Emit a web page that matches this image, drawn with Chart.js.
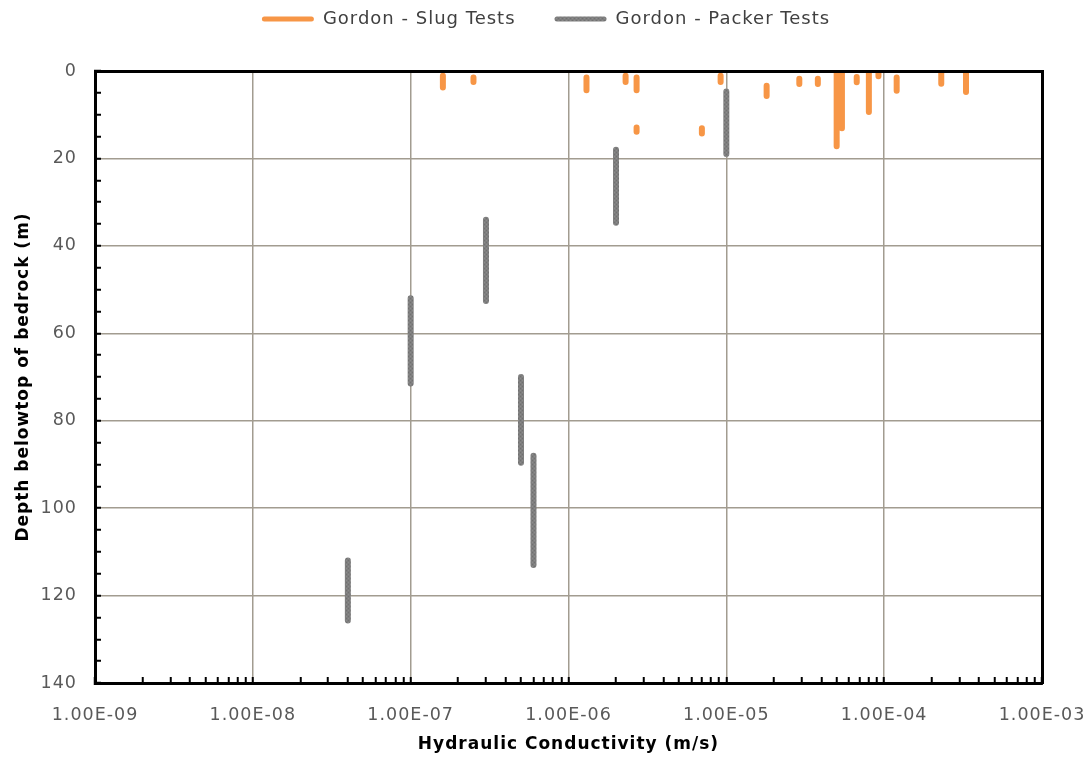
<!DOCTYPE html>
<html>
<head>
<meta charset="utf-8">
<script src="https://cdn.jsdelivr.net/npm/chart.js@4/dist/chart.umd.min.js"></script>
<style>
  html, body { margin: 0; padding: 0; background: #ffffff; }
  #wrap { width: 1092px; height: 760px; }
</style>
</head>
<body>
<div id="wrap"><canvas id="chart" width="1092" height="760"></canvas></div>
<script>
// Slug tests: hydraulic conductivity (m/s) and tested interval (m below top of bedrock)
const slugK      = [1.6e-7, 2.5e-7, 1.3e-6, 2.3e-6, 2.7e-6, 2.7e-6, 7.0e-6, 9.2e-6, 1.8e-5, 2.9e-5,
                    3.8e-5, 5.0e-5, 5.4e-5, 6.7e-5, 8.0e-5, 9.2e-5, 1.2e-4, 2.3e-4, 3.3e-4];
const slugTop    = [1.1, 1.5, 1.5, 1.1, 1.5, 12.9, 13.1, 1.1, 3.4, 1.8,
                    1.8, 0, 0, 1.4, 0, 0, 1.5, 0, 0];
const slugBottom = [3.8, 2.5, 4.4, 2.5, 4.4, 13.9, 14.3, 2.5, 5.7, 3.0,
                    3.0, 17.2, 13.1, 2.6, 9.4, 1.2, 4.5, 2.9, 4.8];

// Packer tests
const packerK      = [4e-8, 1e-7, 3e-7, 5e-7, 6e-7, 2e-6, 1e-5];
const packerTop    = [112, 52, 34, 70, 88, 18, 4.7];
const packerBottom = [125.7, 71.5, 52.6, 89.6, 113, 34.7, 19];

// Axis ticks
const xTickValues = [1e-9, 1e-8, 1e-7, 1e-6, 1e-5, 1e-4, 1e-3];
const xTickLabels = ['1.00E-09', '1.00E-08', '1.00E-07', '1.00E-06', '1.00E-05', '1.00E-04', '1.00E-03'];
const yTickLabels = [0, 20, 40, 60, 80, 100, 120, 140];

const ORANGE = '#F79646';
const GRID = '#a29c90';
const FONT = "'DejaVu Sans', sans-serif";

// each test interval becomes a vertical stroke; a null point breaks the line between tests
function intervals(k, top, bottom) {
  const pts = [];
  k.forEach((v, i) => {
    pts.push({ x: v, y: top[i] }, { x: v, y: bottom[i] }, { x: v, y: null });
  });
  return pts;
}

// finely speckled grey used for the packer strokes
function speckle() {
  const c = document.createElement('canvas');
  c.width = 4; c.height = 4;
  const g = c.getContext('2d');
  g.fillStyle = '#7e7e7e'; g.fillRect(0, 0, 4, 4);
  g.fillStyle = '#707070'; g.fillRect(0, 0, 1, 1); g.fillRect(2, 2, 1, 1);
  g.fillStyle = '#8b8b8b'; g.fillRect(2, 0, 1, 1); g.fillRect(0, 2, 1, 1);
  return g.createPattern(c, 'repeat');
}
const GREY = speckle();

// decades plus the 2..9 minor positions of the log axis
function logTicks() {
  const out = [];
  xTickValues.forEach((d, i) => {
    out.push({ value: d, major: true });
    if (i < xTickValues.length - 1) {
      for (let m = 2; m <= 9; m++) out.push({ value: m * d, major: false });
    }
  });
  return out;
}

const textSpacing = {
  id: 'textSpacing',
  beforeLayout(c) { c.ctx.letterSpacing = '1px'; },
  beforeDraw(c) { c.ctx.letterSpacing = '1px'; }
};

const noClip = { left: 0, top: 0, right: 0, bottom: 0 };
const hidden = 'rgba(0,0,0,0)';

Chart.defaults.font.family = FONT;

new Chart(document.getElementById('chart'), {
  type: 'line',
  data: {
    datasets: [
      {
        label: 'Gordon - Slug Tests',
        data: intervals(slugK, slugTop, slugBottom),
        borderColor: ORANGE, backgroundColor: ORANGE,
        borderWidth: 6, borderCapStyle: 'round',
        pointRadius: 0, pointHoverRadius: 0, spanGaps: false, tension: 0,
        clip: noClip
      },
      {
        label: 'Gordon - Packer Tests',
        data: intervals(packerK, packerTop, packerBottom),
        borderColor: GREY, backgroundColor: GREY,
        borderWidth: 6, borderCapStyle: 'round',
        pointRadius: 0, pointHoverRadius: 0, spanGaps: false, tension: 0,
        clip: noClip
      }
    ]
  },
  options: {
    responsive: false,
    animation: false,
    layout: { padding: { top: -29, left: 0, right: 0, bottom: 0 } },
    plugins: {
      tooltip: { enabled: false },
      legend: {
        position: 'top',
        align: 'center',
        labels: {
          boxWidth: 52, boxHeight: 5, padding: 39,
          color: '#404040', font: { family: FONT, size: 18 },
          generateLabels: (chart) =>
            Chart.defaults.plugins.legend.labels.generateLabels(chart)
              .map(l => Object.assign(l, { lineWidth: 0, borderRadius: 2.5 }))
        }
      }
    },
    scales: {
      x: {
        type: 'logarithmic', position: 'bottom',
        min: 1e-9, max: 1e-3,
        afterBuildTicks: (s) => { s.ticks = logTicks(); },
        afterFit: (s) => { s.height = 77; s.paddingLeft = 0; s.paddingRight = 0; },
        grid: {
          color: (c) => (c.tick && c.tick.major ? GRID : hidden),
          lineWidth: 1.5, drawTicks: true,
          tickColor: '#000', tickWidth: 2, tickLength: -6
        },
        border: { display: true, color: '#000', width: 3, z: 1 },
        ticks: {
          autoSkip: false, maxRotation: 0, minRotation: 0, padding: 28,
          color: '#595959', font: { family: FONT, size: 17.5 },
          callback: (v) => {
            const i = xTickValues.findIndex(t => Math.abs(Math.log10(t) - Math.log10(v)) < 1e-6);
            return i >= 0 ? xTickLabels[i] : '';
          }
        },
        title: {
          display: true, text: 'Hydraulic Conductivity (m/s)',
          color: '#000', font: { family: FONT, size: 17, weight: 'bold' },
          padding: { top: 0, bottom: 5 }
        }
      },
      xTop: {
        type: 'logarithmic', position: 'top',
        min: 1e-9, max: 1e-3,
        afterFit: (s) => { s.height = 33; },
        grid: { display: false },
        ticks: { display: false },
        border: { display: true, color: '#000', width: 3, z: 1 }
      },
      y: {
        type: 'linear', position: 'left', reverse: true,
        min: 0, max: 140,
        afterFit: (s) => { s.width = 95; s.paddingTop = 0; s.paddingBottom = 0; },
        grid: {
          color: (c) => (c.tick && yTickLabels.includes(c.tick.value) ? GRID : hidden),
          lineWidth: 1.5, drawTicks: true,
          tickColor: '#000', tickWidth: 2, tickLength: -6
        },
        border: { display: true, color: '#000', width: 3, z: 1 },
        ticks: {
          stepSize: 5, autoSkip: false, padding: 24,
          color: '#595959', font: { family: FONT, size: 17.5 },
          callback: (v) => (yTickLabels.includes(v) ? String(v) : '')
        },
        title: {
          display: true, text: 'Depth belowtop of bedrock (m)',
          color: '#000', font: { family: FONT, size: 17, weight: 'bold' },
          padding: { top: 13, bottom: 0 }
        }
      },
      yRight: {
        type: 'linear', position: 'right', reverse: true,
        min: 0, max: 140,
        afterFit: (s) => { s.width = 50; },
        grid: { display: false },
        ticks: { display: false },
        border: { display: true, color: '#000', width: 3, z: 1 }
      }
    }
  },
  plugins: [textSpacing]
});
</script>
</body>
</html>
